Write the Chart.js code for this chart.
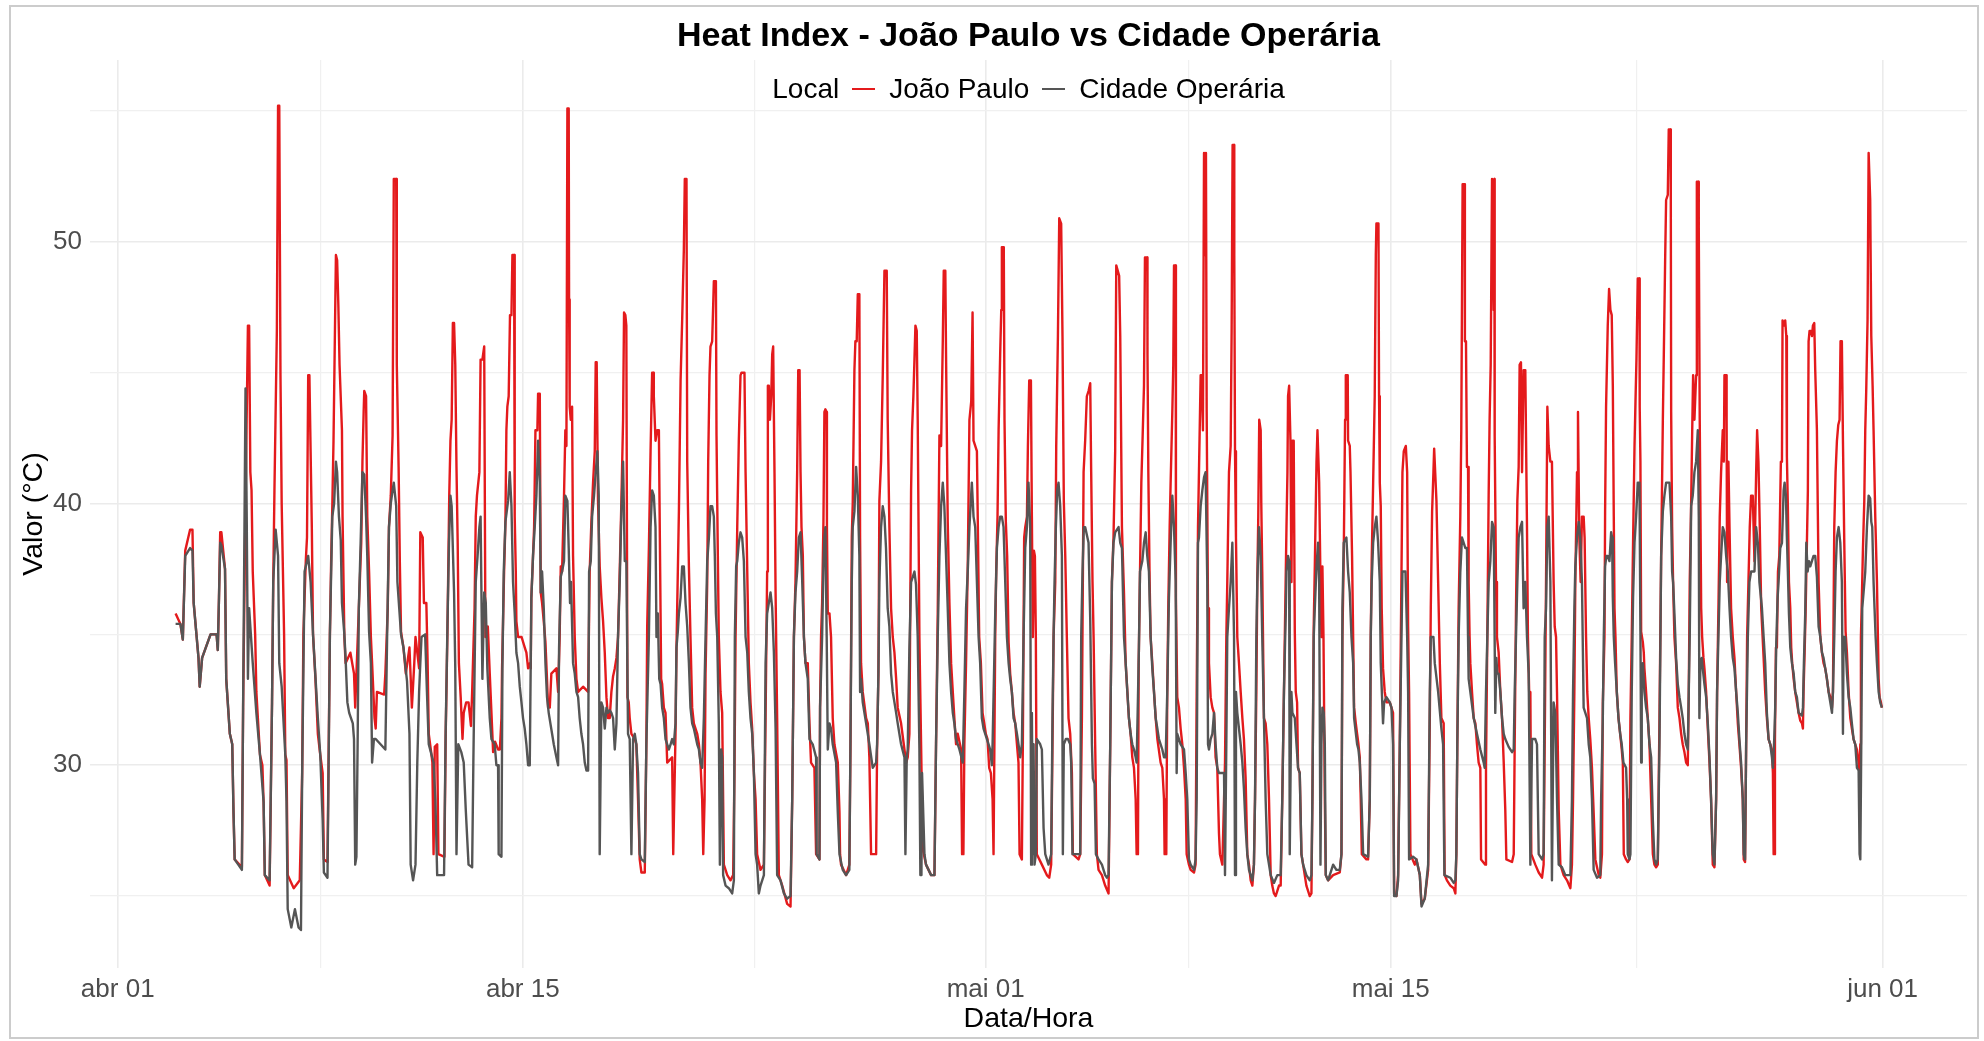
<!DOCTYPE html>
<html>
<head>
<meta charset="utf-8">
<title>Heat Index - João Paulo vs Cidade Operária</title>
<script src="https://cdn.jsdelivr.net/npm/chart.js@4.4.0/dist/chart.umd.min.js"></script>
<style>
  html, body { margin: 0; padding: 0; background: #fff; }
  #wrap { position: relative; width: 1984px; height: 1041px; overflow: hidden; }
  #chart { position: absolute; left: 0; top: 0; }
  #frame { position: absolute; left: 9px; top: 5px; width: 1966px; height: 1030px; border: 2px solid #cccccc; pointer-events: none; }
  #legend { position: absolute; left: 90px; width: 1877px; top: 73px; display: flex; justify-content: center; align-items: center;
            font: 28px "Liberation Sans", Arial, sans-serif; color: #000; white-space: nowrap; }
  .key { display: inline-block; width: 23px; height: 2px; margin: 0 14px 0 13px; }
</style>
</head>
<body>
<div id="wrap">
  <canvas id="chart" width="1984" height="1041"></canvas>
  <div id="legend">
    <span>Local</span><span class="key" style="background:#e41a1c"></span><span>João Paulo</span><span class="key" style="background:#555555"></span><span>Cidade Operária</span>
  </div>
  <div id="frame"></div>
</div>
<script>
// heat index, [hours since abr 01 00:00, °C]
const joaoPaulo = [
  [48,35.8],[52,35.4],[54,34.8],[56,38.2],[60,39.0],[62,39.0],[63,36.2],[67,34.1],[68,33.0],[70,34.1],[77,35.0],[82,35.0],[83,34.4],[84,36.4],[85,38.9],[86,38.9],[89,37.5],[90,33.3],[93,31.2],[95,30.8],[96,28.3],[97,26.4],[103,26.1],[104,32.2],[106,40.0],[108,46.8],[109,46.8],[110,41.2],[111,40.5],[112,37.4],[114,35.0],[115,32.8],[117,31.2],[118,30.4],[120,30.0],[121,28.6],[122,25.8],[126,25.4],[128,32.4],[129,37.0],[130,40.5],[132,46.6],[133,55.2],[134,55.2],[135,44.9],[136,40.0],[138,35.0],[139,30.4],[140,30.2],[141,25.8],[146,25.3],[151,25.6],[153,29.7],[154,35.0],[156,37.8],[157,38.7],[158,44.9],[159,44.9],[161,39.1],[162,35.0],[164,33.3],[166,31.2],[168,30.4],[170,29.7],[171,26.4],[174,26.3],[176,35.0],[177,37.7],
  [178,39.9],[179,42.4],[181,49.5],[182,49.3],[183,47.6],[184,45.3],[186,42.8],[186.5,39.5],[188,34.9],[189,33.9],[193,34.3],[196,33.5],[197,32.2],[200,36.0],[202,38.5],[203,41.6],[204,43.5],[204.5,44.3],[206,44.1],[207,39.5],[208.5,37.4],[210,34.9],[211,33.9],[213,31.8],[214,31.4],[215,32.8],[221,32.7],[222,33.5],[224,36.0],[225,39.1],[226.5,40.3],[228,42.6],[229,52.4],[231,52.4],[231.5,45.3],[233,41.4],[234,37.8],[235,35.1],[237,34.5],[239,33.5],[242,34.5],[244,32.2],[246,33.9],[247,34.9],[250,33.7],[251,38.9],[253,38.7],[254,36.2],[256,36.2],[257,34.1],[258,31.2],[260,30.5],[261,30.1],[262,26.6],[263,30.7],[265,30.8],[266,26.6],[271,26.5],[272,31.0],[273.5,35.1],[275,40.3],[276,42.4],[277,43.2],[278,46.9],[279,46.9],[280,45.3],[281,41.4],[282,38.5],[283,33.9],[284.5,32.6],[286,31.0],[287,32.0],[289,32.4],[291,32.4],[293,31.5],[294,32.8],[296,36.0],[297,39.5],[298,40.3],[300,41.2],[301,45.5],[302.5,45.5],[304,46.0],[305,34.9],
  [307,35.3],[308.6,33.5],[310,32.0],[311.4,30.5],[313,30.9],[315.5,30.6],[317,30.6],[318.3,31.8],[318.8,33.7],[320.5,37.4],[321.6,39.3],[322.4,42.8],[323.2,43.7],[324.3,44.1],[325.4,47.2],[326.6,47.2],[327.4,49.5],[328.8,49.5],[329.3,39.5],[330.2,37.4],[330.7,35.5],[332.1,34.9],[335,34.9],[337.6,34.5],[339,34.3],[340.4,33.7],[341.8,33.9],[342.6,33.7],[343.1,36.4],[344,37.4],[345.4,39.1],[346.5,42.8],[348.1,42.8],[348.7,44.2],[350.1,44.2],[350.9,36.6],[352,36.2],[353.4,35.5],[354.8,34.7],[355.9,33.5],[357,32.2],[358.4,32.2],[359.7,33.5],[363.9,33.7],[365.3,32.8],[366.6,34.9],[367.5,37.6],[368.6,37.4],[370.2,40.3],[371.3,42.8],[372.2,42.2],[373,55.1],[374.1,55.1],[374.4,47.8],[374.9,43.7],[375.8,43.2],[376.9,43.7],[377.7,38.0],[379.1,34.9],[380.5,33.3],[381.9,32.8],[386,33.0],[390.2,32.8],[391.5,37.4],[392.9,39.3],[394.3,40.8],[395.7,42.0],[396.5,45.4],[397.3,45.4],[398.4,40.1],[399.8,37.6],[401.2,36.4],[402.6,35.5],[404,34.3],[405.4,32.6],[406.7,31.8],[408.1,31.8],[409.5,32.8],[410.9,33.4],[412.3,33.7],[413.7,34.1],[415,34.9],[416.4,37.4],[417.8,40.1],[419.2,43.2],[420,47.3],[421.1,47.2],[421.9,46.8],[422.8,32.6],[423.9,32.4],[424.7,31.8],[426.1,31.2],[428.9,31.0],[430.2,30.8],[431.6,28.7],[433,26.4],[434.4,25.9],[437.2,25.9],[438.5,30.8],
  [439.2,35.3],[440.6,38.3],[442,42.0],[443.3,45.0],[444.2,45.0],[444.7,44.1],[446.1,42.4],[447.5,42.8],[448.9,42.8],[449.7,38.7],[450.8,33.3],[451.6,33.1],[453,32.2],[454.4,32.0],[455.8,30.1],[459.9,30.3],[460.8,26.6],[461.3,26.6],[462.7,31.2],[463.5,34.5],[465.5,39.7],[466.9,44.7],[468.2,47.0],[469.6,49.7],[470.4,52.4],[471.8,52.4],[472.4,41.6],[473.8,37.6],[475.1,34.9],[476.5,32.2],[477.9,31.6],[480.7,31.2],[482.1,30.8],[483.4,30.1],[484.8,28.7],[485.7,26.6],[486.8,28.7],[487.6,33.5],[489,37.0],[489.8,41.6],[490.9,44.9],[491.7,46.0],[493.1,46.2],[494.5,48.5],[496.2,48.5],[496.7,42.6],[497.8,38.0],[498.6,34.9],[500,32.8],[501.4,32.0],[502.8,26.2],[505.6,25.8],[508.3,25.6],[510.5,25.8],[511.6,29.7],[512.5,34.9],[513.9,39.1],[515.2,42.4],[516.6,44.9],[517.4,45.0],[519.9,45.0],[520.8,41.2],[522.2,37.4],[523.5,33.9],[524.9,32.4],[526.3,31.4],[527.7,29.7],[529.1,28.7],[530.4,26.6],[533.2,26.0],[536,26.2],[537.4,31.8],[538.7,37.4],[539.3,44.5],[540.1,44.5],[541,43.2],[542.1,44.1],[542.9,45.7],[543.7,46.0],[544.8,41.2],[545.7,36.6],[547,31.8],[548.4,25.8],[551.2,25.4],[555.3,24.7],[558.1,24.6],[559.5,28.7],[560.9,34.9],[562.2,37.0],[563.6,41.2],[564.5,45.1],[565.6,45.1],[566.4,41.2],[567.2,39.1],[568.3,38.0],[569.2,34.9],[570.5,33.9],
  [572.4,33.9],[573.8,31.6],[575.1,30.1],[577.9,29.9],[579.3,26.6],[582.1,26.4],[582.6,32.2],[583.4,34.9],[584.3,36.2],[585.4,39.3],[586.2,43.5],[587,43.6],[588.1,43.5],[588.3,39.1],[589,35.8],[590.4,35.8],[591.7,34.9],[593.1,31.8],[594.5,30.8],[597.3,30.1],[598.7,28.2],[599.2,26.6],[600,26.2],[604.2,25.8],[606.9,26.2],[607.8,30.6],[608.9,38.7],[609.7,40.0],[611.1,45.1],[611.9,46.2],[613,46.2],[613.9,48.0],[615.2,48.0],[615.8,38.7],[616.6,33.9],[618,32.8],[620.8,31.8],[622.2,31.6],[623.5,30.3],[624.9,26.6],[629.1,26.6],[629.9,30.6],[631,33.5],[631.8,40.1],[633.2,41.6],[634.6,44.9],[636,48.9],[637.9,48.9],[638.7,43.2],[640.1,39.1],[641.5,36.0],[642.9,34.9],[644.3,34.3],[645.7,33.3],[647,32.2],[649.8,31.6],[652.6,30.6],[654,30.1],[655.3,30.3],[656.7,31.2],[658.1,40.5],[658.9,42.8],[660,44.1],[660.9,45.5],[661.7,46.8],[662.8,46.6],[663.6,43.2],[665,34.9],[666.4,30.8],[667.8,26.8],[670.5,26.2],[674.7,25.8],[677.5,25.8],[678.8,30.8],[680.2,35.8],[681.6,42.6],[683,42.2],[684.4,46.2],[685.2,48.9],[686.5,48.9],[687.1,45.7],[688.5,39.3],[689.9,36.2],[691.3,33.9],[692.7,32.8],[694,31.8],[695.4,30.8],[696.8,31.2],[699.6,30.6],[700.4,26.6],[701.5,26.6],[702.3,30.8],[703.7,33.9],[705.1,37.6],[706.5,43.2],
  [708,43.9],[709.1,47.3],[709.9,42.4],[711.3,42.2],[712.7,42.0],[713.5,39.1],[714.6,34.9],[716,33.9],[717.4,32.0],[718.8,31.6],[720.1,31.2],[721.5,31.0],[722.9,29.9],[724.3,29.7],[725.7,28.7],[726.5,26.6],[727.9,34.9],[728.7,37.4],[729.8,39.5],[730.7,42.8],[732,45.7],[732.9,47.4],[733.4,49.8],[735,49.8],[735.6,43.2],[736.7,39.3],[737.8,38.0],[739,34.7],[740.3,33.5],[741.7,32.8],[743.1,32.0],[744.5,31.6],[745.9,30.8],[747.2,30.1],[748.1,26.6],[750,26.4],[750.8,30.8],[751.9,38.7],[752.8,39.1],[754.2,39.5],[755,42.2],[756.1,44.7],[757.5,44.7],[758.3,39.5],[759.1,34.9],[760,38.2],[760.8,38.0],[761.6,34.9],[762.4,26.6],[766.6,26.2],[770.7,25.8],[772.7,25.7],[774.3,26.2],[775.4,30.8],[776.3,34.9],[777.7,37.0],[778.5,42.2],[779.9,46.4],[781,50.9],[782.6,50.7],[783.7,46.4],[784.8,40.1],[786,38.0],[787.3,34.9],[788.7,31.8],[790.1,31.2],[791.5,29.7],[792.3,26.6],[797,26.4],[798.4,26.6],[799.8,31.8],[801.2,41.2],[802.5,42.4],[803.9,44.1],[805.3,44.3],[806.7,44.6],[807.5,41.2],[808.6,37.0],[809.5,34.9],[810.8,30.8],[812.2,26.6],[813.6,26.0],[816.4,25.8],[819.1,25.4],[821.9,25.1],[823.3,30.8],[824.7,37.0],[826,38.7],[827.4,42.0],[828.3,49.1],[830.7,48.7],[831.6,46.4],[833,39.1],
  [834.7,36.6],[836.1,33.9],[837.5,32.8],[838.8,31.8],[840.2,31.2],[841.6,30.3],[843,29.9],[844.4,28.7],[845.2,26.6],[846.3,26.6],[846.9,33.9],[848,37.4],[849.1,40.8],[850.2,42.6],[851.3,44.5],[852.1,49.4],[854,49.4],[854.2,45.7],[854.9,41.2],[856,37.0],[856.8,34.9],[858.2,33.9],[859.6,32.8],[861,31.8],[862.4,31.0],[865.1,30.1],[866.5,29.9],[867.9,28.7],[868.4,26.6],[869.8,26.6],[870.6,32.8],[871.5,36.2],[872.6,39.1],[873.4,40.8],[874.8,43.5],[875.6,45.3],[876.2,49.1],[877.6,49.1],[877.8,36.4],[878.9,32.6],[880.3,32.2],[881.7,31.4],[883.1,30.8],[884.5,29.9],[885.9,28.7],[886.7,26.6],[888.6,26.2],[890,26.0],[892.8,25.9],[894.1,26.2],[895,32.8],[896.1,39.1],[896.9,41.2],[898.3,44.9],[899.1,44.9],[900.2,42.8],[901.1,53.4],[902.4,49.5],[902.7,53.4],[903.3,43.5],[904.4,36.0],[905.2,33.9],[906.6,32.6],[908,32.2],[909.4,32.0],[910.7,30.3],[912.1,29.9],[913.5,27.4],[914.3,26.6],[916.3,26.2],[917.7,28.7],[918.5,30.1],[919.6,34.9],[920.4,37.0],[921.8,41.2],[923.2,42.2],[924,46.6],[924.8,53.7],[926,53.7],[926.2,49.5],[926.8,42.0],[927.6,38.7],[928.7,34.9],[930.1,33.9],[931.5,32.8],[932.9,31.8],[934.2,31.0],[935.6,29.5],[937,26.6],[938.4,26.2],[939.8,25.6],[941.2,25.4],[942.5,26.2],[943.4,28.7],[944.5,32.8],[945.3,37.0],[946.1,39.5],[946.9,43.2],[948.1,42.8],[948.6,40.0],[949.4,37.4],[950.8,31.8],[952.2,31.6],[953.6,30.8],[955,28.7],[956.4,25.8],[957.7,25.4],[959.1,25.1],[960.5,25.0],[963.3,25.4],[964.7,25.4],[966,28.7],[967.4,32.8],
  [969.5,39.1],[970.3,41.2],[970.8,44.1],[971.7,44.5],[972.8,42.4],[973.6,37.0],[974.4,42.4],[975.5,42.4],[976.4,35.1],[977.2,32.8],[978.3,32.4],[979.1,29.9],[980.5,29.7],[981.9,26.6],[983.3,26.2],[986,25.4],[988.8,25.0],[990.2,25.1],[991,28.7],[992.1,35.3],[993,37.6],[994.4,41.6],[995.2,42.8],[996.6,40.8],[997.7,37.0],[998.5,34.9],[999.3,37.6],[1000.2,34.9],[1001.3,28.7],[1002.1,25.8],[1004,25.6],[1008.2,25.8],[1013.7,25.9],[1015.1,26.6],[1015.9,34.9],[1017,38.0],[1018.1,43.2],[1018.7,44.9],[1020.3,44.9],[1020.6,42.4],[1022,42.2],[1022.6,41.2],[1023.9,38.0],[1024.8,34.9],[1025.6,32.2],[1027,31.6],[1028.1,31.2],[1029.2,30.8],[1030.3,30.3],[1031.1,28.7],[1032,26.6],[1035.8,26.4],[1037.2,26.4],[1038.6,28.7],[1039.4,34.9],[1040.2,37.8],[1041.4,40.8],[1042.7,44.1],[1043.6,49.5],[1044.1,50.7],[1045.8,50.7],[1046.3,44.1],[1046.9,40.8],[1047.7,39.9],[1048.5,36.0],[1049.6,33.7],[1051,32.8],[1052.4,32.4],[1055.2,32.4],[1057.9,32.0],[1058.8,25.1],[1060.7,25.0],[1062.1,25.8],[1063.5,30.8],[1064.9,37.4],[1065.7,41.2],[1066.8,42.0],[1068.5,42.2],[1069.6,41.2],[1070.4,35.3],[1071.2,32.8],[1072.3,26.6],[1075.9,26.2],[1077.3,26.4],[1080.1,25.8],[1081.5,24.7],[1084.2,24.9],[1087,26.0],[1088.4,31.8],[1089.2,36.0],[1090.3,39.7],[1091.4,41.2],[1092,42.1],[1093.9,40.1],[1095.3,37.0],[1096.7,33.9],[1098,31.8],
  [1099.9,31.6],[1100.7,25.8],[1102.6,25.6],[1105.4,25.4],[1108.2,25.3],[1109.6,25.1],[1110.4,26.6],[1111.2,30.8],[1112.3,36.0],[1113.7,39.5],[1114.5,42.8],[1115.6,52.2],[1117.3,52.2],[1117.5,46.2],[1118.4,46.2],[1119.2,41.4],[1120.1,41.4],[1120.6,37.0],[1121.4,34.9],[1122,33.9],[1123.4,32.8],[1124.8,31.8],[1126.2,31.6],[1127.5,30.8],[1128.9,30.1],[1130.3,29.9],[1130.9,26.4],[1134.4,26.2],[1135,29.9],[1136.1,34.9],[1137.2,40.3],[1138,43.2],[1138.9,45.3],[1140,52.4],[1141.4,47.4],[1141.9,52.4],[1142.2,42.6],[1143.3,37.0],[1144.1,34.9],[1145.5,34.3],[1146.9,32.8],[1148.3,31.8],[1149.7,30.1],[1151,28.3],[1151.9,26.4],[1156.6,26.3],[1158,26.6],[1158.8,30.8],[1159.9,36.0],[1161,40.1],[1162.1,41.4],[1162.9,45.3],[1164,45.4],[1164.9,41.2],[1166.2,45.1],[1167.6,45.1],[1169,39.1],[1169.8,34.9],[1170.9,32.6],[1171.8,32.8],[1172.6,26.6],[1175.9,26.2],[1178.7,25.9],[1181.5,25.7],[1182.8,26.2],[1183.7,30.8],[1184.8,37.0],[1185.9,43.7],[1187,42.2],[1188.4,41.6],[1189.7,41.6],[1191.1,37.0],[1192,35.3],[1193.1,34.9],[1193.9,32.8],[1195.3,28.3],[1196.7,26.2],[1199.4,25.8],[1202.2,25.6],[1205,25.3],[1206.3,26.2],[1207.2,28.7],[1208.3,32.8],[1209.1,37.0],[1210.5,41.2],[1211.3,43.5],[1212.4,38.7],[1213.5,37.0],[1214.6,39.5],[1216,39.5],[1216.8,38.7],[1218,34.9],[1219,32.8],[1220.2,31.8],[1221.5,31.0],[1222.9,29.9],[1224.3,28.2],[1225.7,26.4],[1228.5,25.8],[1229.8,25.7],[1231.2,26.6],
  [1231.9,32.4],[1233.3,34.9],[1233.8,39.7],[1234.6,43.7],[1236,46.8],[1237.1,48.2],[1238.2,47.4],[1239.3,47.2],[1240.2,44.5],[1241,39.5],[1241.6,36.0],[1242.4,34.9],[1243.5,32.8],[1244.9,31.8],[1246.3,31.2],[1247.6,30.6],[1248.5,30.1],[1249.3,26.6],[1251.2,26.4],[1252.6,26.3],[1254,26.4],[1254.8,31.8],[1255.9,34.9],[1257,38.5],[1258.2,42.2],[1259,43.9],[1259.8,45.5],[1260.9,48.6],[1262.3,48.6],[1262.5,43.7],[1263.1,41.6],[1263.7,35.1],[1265.1,34.7],[1265.9,34.3],[1266.4,33.7],[1267.8,32.8],[1269.2,31.8],[1270.6,30.8],[1272,28.7],[1273.4,26.6],[1274.7,26.2],[1276.1,26.1],[1277.5,26.2],[1278.9,31.8],[1280.3,38.0],[1281.7,43.2],[1282.5,45.7],[1283.6,49.3],[1284.4,51.6],[1285.8,51.8],[1286.6,54.3],[1288,54.3],[1288.3,51.6],[1288.6,43.5],[1289.4,39.1],[1290.2,37.0],[1291.3,34.9],[1292.7,33.9],[1294.1,32.2],[1295.5,31.8],[1296.9,31.2],[1298.2,30.8],[1299.6,30.5],[1301,30.1],[1302.4,30.0],[1303.2,32.8],[1304,37.0],[1305.2,40.1],[1306,42.6],[1306.8,44.9],[1307.9,43.2],[1309.3,44.9],[1309.9,52.3],[1311.2,52.3],[1311.5,50.5],[1312.3,43.2],[1313.5,36.0],[1314.3,34.9],[1315.4,34.1],[1316.2,33.7],[1317.6,32.8],[1319,31.4],[1320.4,30.1],[1321.7,28.7],[1323.1,26.2],[1324.5,26.1],[1325.9,28.7],[1326.7,32.8],[1327.8,36.0],[1328.9,39.5],[1330,41.2],[1331.4,42.8],[1332.3,41.6],[1332.8,44.9],[1334.2,44.9],[1334.6,43.2],[1335,37.0],[1336.1,41.6],[1337,39.1],[1338.3,36.0],[1339.7,34.9],[1341.1,34.1],[1342.5,32.8],[1343.9,31.6],[1345.2,30.8],[1346.6,29.9],[1348,28.7],[1348.8,26.4],[1349.9,26.3],[1350.8,30.8],[1351.6,34.9],[1352.7,37.0],[1353.8,39.1],[1354.9,40.3],[1356.3,40.3],[1357.7,37.8],[1359.1,41.2],[1359.9,42.8],[1361,41.6],[1362.1,39.1],
  [1363.3,36.0],[1365.3,34.1],[1366.6,32.8],[1368,31.8],[1369.4,31.0],[1370.8,30.8],[1372.2,30.6],[1373,29.7],[1373.6,26.6],[1374.4,26.6],[1374.7,31.0],[1375.5,34.5],[1376.3,34.5],[1377.2,37.4],[1378.3,38.0],[1379.6,41.6],[1380.5,41.6],[1381,47.0],[1381.9,46.8],[1383.2,47.0],[1384.1,46.4],[1384.6,41.8],[1385.4,39.9],[1386.3,37.0],[1387.4,36.0],[1388.2,34.5],[1389,33.9],[1390.2,33.3],[1391.5,32.8],[1392.9,32.4],[1394.3,32.0],[1395.7,31.7],[1397.1,31.6],[1397.9,31.4],[1398.4,32.8],[1399.3,34.3],[1400.1,35.8],[1401.2,38.5],[1402,40.5],[1402.6,46.2],[1403.4,46.6],[1404.5,46.6],[1405.4,46.4],[1406.2,46.8],[1407.3,46.9],[1408.1,45.1],[1409.5,42.8],[1410.9,37.0],[1412.3,34.9],[1413.7,34.3],[1415,33.9],[1416.4,33.7],[1417.8,33.3],[1419.2,32.8],[1420.6,32.6],[1422,32.2],[1422.8,32.8],[1423.9,39.1],[1425,41.2],[1426.1,42.4],[1427.2,43.0],[1428.3,43.2],[1429.1,46.2],[1430.2,46.2],[1431.1,42.4],[1432.2,38.5],[1433.3,35.1],[1434.4,34.3],[1435.8,32.8],[1437.2,31.8],[1438.5,31.4],[1439.9,31.0],[1441.3,30.8],[1442.7,30.6],[1444.1,30.1],[1444.9,29.7],[1445.5,30.8],[1446,34.9],[1446.8,36.4],[1447.7,38.3],[1448.8,40.1],[1449.6,42.8],[1450.4,44.3],[1451.5,47.0],[1452.4,53.4],[1453.7,51.6],[1454.6,46.4],[1455.7,44.5],[1456.5,42.8],[1457.9,39.5],[1459.3,37.0],[1460.1,34.9],[1460.7,33.3],[1461.5,32.6],[1462.6,32.4],[1463.4,32.2]
];

const cidadeOperaria = [
  [48,35.4],[52,35.4],[54,34.8],[55,36.4],[56,38.0],[60,38.3],[62,38.2],[63,36.2],[67,34.1],[68,33.0],[70,34.1],[77,35.0],[82,35.0],[83,34.4],[84,36.4],[85,38.5],[86,38.4],[89,37.5],[90,33.3],[93,31.2],[95,30.8],[96,28.3],[97,26.4],[103,26.0],[104,32.2],[106,44.4],[107,39.5],[108,33.3],[109,36.0],[112,33.9],[115,32.0],[118,30.4],[121,28.6],[122,25.8],[126,25.6],[128,32.4],[129,37.0],[131,39.0],[133,38.0],[134,33.9],[136,33.0],[139,30.4],[140,28.6],[141,24.5],[144,23.8],[147,24.5],[150,23.8],[152,23.7],[153,29.7],[155,37.4],[158,38.0],[160,37.0],[162,35.0],[166,31.8],[168,30.4],[170,27.9],[171,25.9],[174,25.7],[176,35.0],
  [178,39.5],[179.5,40.0],[181,41.6],[182,41.2],[183.5,39.5],[185,38.6],[186,36.2],[188,35.0],[189,34.1],[190.5,32.4],[192,32.0],[195,31.6],[196,31.0],[197,26.2],[198,26.5],[199,30.8],[200,36.0],[201.5,38.5],[203,41.2],[204.5,41.1],[206,39.5],[207,38.0],[208.5,35.1],[210,33.9],[211,30.1],[212.5,31.0],[214,31.0],[218,30.8],[222,30.6],[223.5,35.0],[225,39.1],[226.5,40.0],[228,40.5],[229,40.8],[231,39.9],[232,37.0],[233.5,36.0],[235,35.0],[237,34.5],[240,33.2],[242,31.2],[243,26.2],[245,25.6],[247,26.2],[248.5,30.1],[250,32.8],[251,33.9],[252,34.9],[255,35.0],[256.5,32.8],[258,30.8],[262,30.1],[263.5,28.7],[265,25.8],[270.7,25.8],[272,31.2],[273.5,35.3],[274.8,38.5],[276,40.3],[277,39.9],[279,36.6],[280,33.7],[281,26.6],[282.5,30.8],[285,30.5],[287,30.1],[288.7,28.3],[291,26.2],[294,26.1],[295,30.1],[297,37.0],[298.5,38.0],[300,39.1],[301,39.5],[302.5,33.3],[304,36.6],[305.3,36.2],[306.6,33.7],
  [308.6,31.8],[310,31.0],[312.7,30.8],[314.1,30.0],[315.5,30.0],[316,26.6],[318.3,26.5],[319.1,33.7],[320.2,37.4],[321.6,39.3],[323.8,40.1],[325.2,41.2],[326.6,39.9],[327.9,37.0],[329.3,35.8],[330.7,34.3],[332.1,33.9],[333.5,33.0],[334.9,32.4],[336.2,31.8],[337.6,31.4],[339,30.8],[340.4,30.0],[341.8,30.0],[343.1,36.4],[344.5,38.0],[345.9,39.1],[347.3,40.3],[348.7,42.4],[350.1,40.8],[350.9,36.6],[352,37.4],[353.4,36.0],[354.8,33.9],[356.1,32.6],[357.5,32.0],[358.9,31.6],[360.3,31.2],[361.7,30.8],[363.9,30.3],[365.3,30.0],[366.1,34.5],[367.5,37.2],[368.6,37.4],[370.2,37.8],[371.3,40.3],[373,40.1],[374.1,38.3],[375.2,36.2],[376,37.0],[377.7,33.9],[379.1,33.5],[380.5,32.8],[381.9,32.6],[383.2,31.8],[384.6,31.2],[386,30.8],[387.4,30.1],[388.8,29.8],[390.2,29.8],[391,37.4],[392.4,37.8],[393.5,39.5],[395.1,40.3],[396.5,41.2],[397.9,42.0],[399,40.3],[399.8,26.6],[401.2,32.4],[402.6,32.2],[404,31.4],[405.4,32.2],[406.7,32.0],[408.1,32.1],[409.5,32.0],[410.9,31.8],[412.3,30.6],[413.7,31.6],[415,34.9],[416.4,37.0],[417.8,39.7],[419.2,41.6],[420.6,37.8],[421.9,37.8],[423.3,31.2],[424.7,31.0],[426.1,26.6],[427.5,31.0],[428.9,31.2],[430.2,30.8],[431.6,29.7],[433,26.6],[434.4,26.4],[437.2,26.3],[438.5,30.8],
  [440.6,34.9],[442,39.1],[443.3,40.5],[444.7,40.3],[446.1,39.1],[446.9,34.9],[448,35.8],[449.2,33.3],[450.3,33.1],[451.6,32.2],[453,31.8],[454.4,31.0],[455.8,30.8],[457.2,30.6],[458.6,30.8],[459.9,31.0],[461.3,30.8],[462.7,31.6],[463.5,34.5],[464.6,35.1],[465.5,35.8],[466.9,36.4],[468.2,37.6],[469.6,37.6],[471,36.2],[472.4,35.3],[473.8,33.9],[475.1,32.2],[476.5,31.6],[477.9,31.4],[480.7,30.8],[482.1,30.6],[483.4,30.1],[484.8,29.9],[486.2,31.8],[487.6,34.9],[489,37.8],[490.4,38.7],[491.7,39.9],[493.1,39.9],[494.5,39.5],[495.3,38.0],[496.2,35.8],[497.3,34.9],[498.6,31.6],[499.5,26.2],[500.6,30.6],[501.4,30.3],[502.2,25.8],[504.2,25.4],[506.9,25.3],[509.7,25.1],[511.1,25.6],[511.9,34.9],[513,37.6],[513.9,37.8],[515.2,38.5],[516.6,38.9],[518,38.7],[519.4,37.8],[520.8,34.9],[522.2,34.3],[523.5,32.8],[524.9,31.8],[526.3,31.2],[527.7,29.7],[529.1,26.6],[530.4,26.2],[531.8,25.1],[533.2,25.4],[536,25.8],[537.4,33.9],[538.7,35.8],[540.1,36.2],[541.5,36.6],[542.9,36.0],[544.3,34.3],[545.7,31.4],[547,25.8],[549.8,25.6],[552.6,25.1],[555.3,24.9],[558.1,25.0],[559.5,28.7],[560.9,34.9],[562.2,36.6],[563.6,37.4],[565,38.7],[566.4,38.9],[567.8,37.0],[569.2,34.9],[570.5,33.9],
  [572.4,33.3],[573.8,31.0],[576.5,30.8],[579.3,30.3],[579.8,26.6],[582.1,26.4],[582.6,32.2],[584.3,34.9],[585.4,37.6],[586.2,38.7],[587,39.1],[588.1,34.9],[589,30.6],[590.4,31.6],[591.7,31.4],[593.1,30.8],[595.9,30.1],[597.3,28.2],[598.7,26.6],[601.4,26.0],[604.2,25.8],[606.9,26.0],[607.8,30.8],[608.9,37.0],[609.7,39.1],[611.1,39.7],[612.5,41.4],[613.9,40.3],[615.2,38.0],[615.8,32.8],[616.6,33.3],[618,32.4],[620.8,31.6],[623.5,30.8],[626.3,29.9],[629.1,30.1],[629.9,30.8],[631,33.5],[631.8,37.0],[633.2,39.1],[634.6,39.9],[636,39.5],[637.3,38.3],[638.7,36.0],[640.1,35.3],[641.5,33.5],[642.9,32.8],[644.3,32.4],[645.7,32.0],[647,31.6],[649.8,30.8],[652.6,30.3],[653.4,26.6],[654.5,30.3],[655.3,30.6],[656.7,34.5],[658.1,37.0],[660.9,37.4],[662.2,36.9],[663.6,34.9],[665,30.6],[665.8,25.8],[666.7,25.8],[667.2,29.7],[669.2,26.6],[670.5,26.2],[674.7,25.8],[677.5,25.8],[678.8,30.8],[680.2,34.9],[681.6,38.0],[683,39.9],[684.4,40.8],[685.7,39.9],[687.1,38.0],[688.5,36.0],[689.9,33.9],[691.3,32.8],[692.7,32.0],[694,31.6],[695.4,31.0],[698.2,30.6],[701,30.1],[702.3,32.8],[703.7,36.0],[705.1,37.4],[706.5,39.1],
  [708.5,40.8],[709.9,39.5],[711.3,39.1],[712.7,37.0],[714.1,34.9],[715.4,33.9],[716.8,31.8],[718.2,31.4],[719.6,31.2],[721,31.0],[722.4,30.8],[723.7,30.6],[725.1,30.0],[725.7,30.8],[727.9,35.8],[729.3,38.3],[730.7,39.1],[732,39.5],[733.4,39.5],[734.8,39.1],[736.2,37.0],[737.6,34.9],[739,33.9],[740.3,33.3],[741.7,32.8],[743.1,31.8],[744.5,31.6],[745.9,31.2],[747.2,30.8],[748.6,30.3],[750,30.8],[751.4,34.9],[752.8,38.3],[754.2,39.1],[755.5,40.8],[756.9,39.1],[757.7,26.2],[758.3,32.0],[759.1,26.6],[759.7,30.8],[760.5,26.2],[761.6,26.6],[762.4,31.0],[765.2,30.8],[766.6,30.6],[768,27.6],[769.4,26.6],[772.1,26.2],[774.3,26.6],[775.4,31.8],[776.3,34.9],[777.1,37.0],[778.2,39.1],[779.3,40.5],[780.4,40.8],[781.8,39.9],[783.2,38.0],[784,26.6],[784.8,30.8],[786.5,31.0],[788.2,31.0],[790.1,30.8],[790.9,30.1],[792,26.6],[798.4,26.6],[799.2,34.9],[800.3,37.4],[801.4,39.1],[802.5,39.1],[805.3,38.5],[806.7,35.6],[808.1,30.8],[808.9,29.5],[810.3,29.3],[811.4,26.6],[813.6,26.4],[816.4,26.2],[819.1,25.8],[820.5,25.7],[821.9,25.8],[823.3,30.8],[824.7,37.0],[826,38.5],[827.4,38.9],[830.2,39.1],[831.6,38.5],[833,38.3],
  [834.7,34.9],[836.1,33.9],[837.5,32.8],[838.8,31.8],[840.2,31.2],[841.6,30.8],[843,30.6],[844.4,30.3],[845.2,30.1],[846.3,32.6],[847.1,34.5],[848,37.4],[849.9,37.8],[851.3,38.5],[852.7,38.9],[854,38.0],[855.4,37.4],[856.8,34.9],[858.2,33.7],[859.6,32.8],[861,31.8],[862.4,31.4],[863.7,31.0],[865.1,30.8],[866.5,30.6],[867.9,30.3],[869.3,30.3],[870.6,32.8],[872,36.4],[873.4,38.5],[874.8,40.3],[876.2,39.1],[877.6,37.0],[878.4,29.7],[878.9,31.2],[881.7,30.8],[884.5,30.6],[885.9,29.7],[887.2,28.7],[888.6,26.4],[890,26.2],[892.8,26.0],[894.1,26.4],[895,28.7],[896.1,38.5],[896.9,38.7],[898.3,39.9],[899.7,40.5],[901.1,41.0],[902.4,41.2],[903.8,37.0],[904.4,30.8],[905.2,30.6],[906.6,31.0],[908,31.2],[909.4,32.0],[910.7,30.8],[912.1,29.9],[913.5,29.7],[917.7,29.7],[918.5,25.8],[919.6,30.8],[920.4,34.9],[921.8,36.0],[923.2,37.0],[924.6,38.5],[926,34.9],[926.8,25.8],[927.6,32.8],[928.7,32.0],[930.1,31.4],[931.5,30.8],[932.9,30.1],[934.2,29.1],[935.6,27.6],[937,26.6],[938.4,26.0],[939.8,25.8],[941.2,25.6],[942.5,26.2],[943.4,28.7],[944.5,34.9],[945.3,37.0],[946.7,39.1],[948.1,38.0],[949.4,34.9],[950.8,31.8],[952.2,28.7],[953.6,26.6],[955,26.2],[956.4,25.8],[959.1,25.5],[961.9,25.8],[964.7,25.8],[966,28.7],[967.4,32.8],
  [968.9,35.8],[969.5,37.4],[970.8,38.0],[971.7,37.8],[972.2,26.6],[973.6,32.8],[974.4,32.0],[976.4,31.8],[977.8,30.8],[979.1,29.9],[980.5,29.7],[981.9,26.6],[983.3,26.2],[986,25.8],[988.8,25.6],[990.2,25.8],[991,28.7],[992.1,34.9],[993,36.0],[994.4,37.6],[995.7,38.5],[996.6,37.0],[997.7,26.2],[998.5,30.8],[999.3,32.2],[1000.4,32.0],[1001.3,30.8],[1002.1,25.8],[1004,25.6],[1005.4,25.8],[1008.2,26.2],[1010.9,26.0],[1013.7,26.0],[1015.1,26.6],[1015.9,36.0],[1017,38.5],[1019.2,38.7],[1020.6,37.4],[1022,36.6],[1023.4,34.9],[1024.8,33.9],[1025.6,31.8],[1028.1,30.8],[1029.2,30.6],[1030.3,30.1],[1031.7,28.7],[1033.1,26.6],[1037.2,26.5],[1038.6,28.7],[1039.4,34.9],[1040.2,37.0],[1041.4,38.5],[1042.7,39.1],[1044.1,39.5],[1045.5,38.5],[1046.9,37.0],[1047.7,33.9],[1049.6,31.6],[1050.5,32.4],[1052.4,32.6],[1055.2,32.4],[1056.6,32.2],[1057.9,30.8],[1058.8,25.0],[1060.7,25.0],[1062.1,25.6],[1063.5,30.8],[1064.9,34.9],[1065.7,37.4],[1068.2,37.4],[1069.6,34.9],[1070.4,32.8],[1071.2,26.4],[1074.5,26.5],[1077.3,26.4],[1080.1,25.8],[1081.5,24.6],[1084.2,24.9],[1087,26.2],[1088.4,32.8],[1089.2,34.9],[1091.4,34.9],[1092.5,33.9],[1095.3,32.8],[1098,31.4],[1099.4,30.8],
  [1100.5,25.8],[1105.4,25.7],[1108.2,25.5],[1109.6,25.6],[1110.4,26.6],[1111.2,30.8],[1112.3,34.9],[1113.7,37.4],[1115.1,38.7],[1117.9,38.3],[1119.2,38.3],[1120.1,34.9],[1120.6,33.3],[1122,32.8],[1124.8,31.8],[1127.5,31.2],[1130.3,30.6],[1133.1,30.1],[1133.9,29.9],[1135,32.8],[1136.1,34.9],[1137.2,37.0],[1138.6,37.8],[1140,39.3],[1141.4,39.1],[1142.7,32.0],[1143.6,34.1],[1144.4,33.5],[1145.5,33.5],[1146.9,32.8],[1148.3,31.8],[1149.7,31.2],[1151,31.0],[1153.8,30.7],[1156.6,30.5],[1158,30.6],[1158.8,32.8],[1159.9,34.9],[1161,37.0],[1162.1,38.7],[1163.5,39.1],[1164.9,39.3],[1166.2,36.0],[1167.6,37.0],[1169,34.9],[1170.4,33.5],[1171.8,26.2],[1173.2,31.0],[1175.9,31.0],[1177.3,30.8],[1178.7,26.6],[1181.5,26.4],[1182.8,26.6],[1183.7,34.9],[1184.8,36.0],[1185.9,39.1],[1187,39.5],[1188.4,37.0],[1189.7,25.6],[1191.1,32.4],[1192.5,32.0],[1193.9,28.7],[1195.3,26.2],[1198,26.1],[1200.8,25.8],[1205,25.8],[1206.3,28.7],[1207.2,32.8],[1208.3,36.0],[1209.1,37.6],[1210.5,38.7],[1211.9,39.3],[1213.2,38.7],[1214.6,37.0],[1216,32.2],[1218.8,31.8],[1220.2,30.8],[1221.5,30.3],[1222.9,28.7],[1224.3,26.0],[1227.1,25.7],[1229.8,25.8],
  [1230.5,28.7],[1231.9,31.8],[1232.7,34.9],[1233.8,37.6],[1234.9,38.0],[1236,38.0],[1237.4,37.8],[1238.8,38.9],[1239.6,38.7],[1240.2,36.4],[1241,34.9],[1242.1,33.9],[1243.5,32.8],[1244.9,31.8],[1246.3,31.2],[1247.6,30.8],[1249,30.1],[1251.2,29.9],[1252.1,28.7],[1252.6,26.6],[1254,26.4],[1254.8,26.6],[1255.9,32.8],[1257,36.4],[1258.2,38.5],[1259.5,39.5],[1260.9,40.8],[1262.3,40.8],[1263.1,35.1],[1263.7,30.1],[1264.2,33.0],[1265.1,33.9],[1266.4,32.8],[1267.8,32.2],[1269.2,31.8],[1270.6,30.8],[1272,30.3],[1273.4,27.9],[1274.7,26.4],[1276.1,26.2],[1277.5,26.4],[1278.9,30.8],[1280.3,38.0],[1281.7,39.7],[1283,40.3],[1284.4,40.8],[1287.2,40.8],[1288.6,39.5],[1289.4,37.4],[1290.2,37.0],[1291.3,35.8],[1292.7,34.1],[1294.1,33.1],[1295.5,32.6],[1296.9,32.2],[1298.2,31.8],[1299.6,31.2],[1301,30.8],[1302.4,30.6],[1303.2,32.8],[1304,34.9],[1305.2,39.9],[1306.5,40.3],[1307.9,41.2],[1309.3,41.6],[1310.7,42.8],[1311.5,39.5],[1312,31.8],[1312.9,33.9],[1314,34.1],[1314.8,33.7],[1316.2,33.1],[1317.6,32.6],[1319,31.6],[1320.4,30.3],[1321.7,28.7],[1323.1,26.6],[1324.5,26.2],[1325.9,28.7],[1326.7,32.8],[1327.8,34.9],[1328.9,37.0],[1330,38.0],[1331.4,39.1],[1332.8,38.9],[1334.2,38.0],[1335.6,37.4],[1337,36.0],[1338.3,34.9],[1339.7,34.1],[1341.1,33.7],[1342.5,32.8],[1343.9,32.0],[1345.2,31.0],[1346.6,30.1],[1348,28.7],[1348.8,26.6],[1349.9,26.4],[1350.8,30.8],[1352.2,34.9],[1353.5,37.0],[1354.9,37.4],[1357.7,37.4],[1359.1,39.1],[1360.5,38.5],[1361.8,37.0],
  [1363.9,36.0],[1365.3,34.9],[1366.6,33.9],[1368,32.0],[1369.4,31.0],[1370.8,30.8],[1372.2,30.3],[1373,29.9],[1374.1,31.0],[1374.9,32.2],[1375.8,34.7],[1376.9,36.4],[1377.7,37.0],[1379.1,38.3],[1380.5,38.5],[1381.9,40.5],[1382.7,40.8],[1383.8,40.3],[1384.6,38.7],[1385.4,37.4],[1386.3,35.8],[1387.4,34.5],[1388.8,33.9],[1390.2,33.5],[1391.5,32.8],[1392.9,32.6],[1394.3,32.0],[1397.1,31.9],[1397.9,32.2],[1398.7,33.9],[1399.8,35.8],[1400.7,38.5],[1401.8,37.4],[1402.9,37.8],[1404,37.6],[1406.7,38.0],[1408.1,38.0],[1409.5,37.2],[1410.9,35.3],[1412.3,34.9],[1413.7,34.3],[1415,34.1],[1416.4,33.7],[1417.8,33.3],[1419.2,32.8],[1420.6,32.4],[1422,32.0],[1422.8,32.8],[1423.9,34.9],[1425,37.4],[1426.1,38.7],[1427.5,39.1],[1428.9,38.5],[1430.2,37.0],[1431.1,31.2],[1431.6,34.9],[1433,34.9],[1434.4,33.5],[1435.8,32.6],[1437.2,32.2],[1438.5,31.6],[1439.9,31.0],[1441.3,30.8],[1442.7,29.9],[1444.1,29.8],[1444.9,26.6],[1445.5,26.4],[1446.3,30.8],[1447.1,36.0],[1448.2,36.6],[1449.6,37.4],[1451,39.1],[1452.4,40.3],[1453.7,40.2],[1454.6,39.3],[1455.4,39.1],[1456.5,37.0],[1457.3,36.0],[1458.2,34.9],[1459.3,33.9],[1460.7,32.8],[1462,32.4],[1463.4,32.2]
];

// axis ticks (hours since abr 01)
const xTickHours = [0, 336, 720, 1056, 1464];
const xTickLabels = ["abr 01", "abr 15", "mai 01", "mai 15", "jun 01"];
const xMinorHours = [168, 528, 888, 1260];
const yTickValues = [30, 40, 50];
const yMinorValues = [25, 35, 45, 55];

const FONT = '"Liberation Sans", Arial, Helvetica, sans-serif';
Chart.defaults.font.family = FONT;

function toPoints(rows) {
  return rows.map(r => ({ x: r[0], y: r[1] }));
}

function gridColor(majors) {
  return (c) => (c.tick && majors.includes(c.tick.value)) ? "#ebebeb" : "#f0f0f0";
}
function gridWidth(majors) {
  return (c) => (c.tick && majors.includes(c.tick.value)) ? 1.6 : 1.2;
}

new Chart(document.getElementById("chart"), {
  type: "line",
  data: {
    datasets: [
      { label: "João Paulo", data: toPoints(joaoPaulo), borderColor: "#e41a1c", borderWidth: 2.4, borderJoinStyle: "round", pointRadius: 0, tension: 0, order: 1 },
      { label: "Cidade Operária", data: toPoints(cidadeOperaria), borderColor: "#555555", borderWidth: 2.4, borderJoinStyle: "round", pointRadius: 0, tension: 0, order: 0 }
    ]
  },
  options: {
    responsive: false,
    animation: false,
    events: [],
    layout: { padding: { left: 10, right: 17, top: 0, bottom: 3 } },
    plugins: {
      legend: { display: false },
      tooltip: { enabled: false },
      title: {
        display: true,
        fullSize: false,
        text: "Heat Index - João Paulo vs Cidade Operária",
        color: "#000",
        font: { size: 34, weight: "bold" },
        padding: { top: 16, bottom: 3.2 }
      }
    },
    scales: {
      x: {
        type: "linear",
        min: -23,
        max: 1534,
        afterBuildTicks: (s) => { s.ticks = xTickHours.concat(xMinorHours).sort((a, b) => a - b).map(v => ({ value: v })); },
        afterFit: (s) => { s.height = 70; },
        border: { display: false },
        grid: { drawTicks: false, color: gridColor(xTickHours), lineWidth: gridWidth(xTickHours) },
        ticks: {
          autoSkip: false, maxRotation: 0, padding: 6.5, color: "#4d4d4d", font: { size: 26 },
          callback: (v) => { const i = xTickHours.indexOf(v); return i >= 0 ? xTickLabels[i] : ""; }
        },
        title: { display: true, text: "Data/Hora", color: "#000", font: { size: 28.5 }, padding: { top: 0, bottom: 2 } }
      },
      y: {
        min: 22.25,
        max: 56.95,
        afterBuildTicks: (s) => { s.ticks = yMinorValues.concat(yTickValues).sort((a, b) => a - b).map(v => ({ value: v })); },
        afterFit: (s) => { s.width = 80; },
        border: { display: false },
        grid: { drawTicks: false, color: gridColor(yTickValues), lineWidth: gridWidth(yTickValues) },
        ticks: {
          padding: 8, color: "#4d4d4d", font: { size: 26 },
          callback: (v) => yTickValues.includes(v) ? String(v) : ""
        },
        title: { display: true, text: "Valor (°C)", color: "#000", font: { size: 28.5 }, padding: { top: 7, bottom: 0 } }
      }
    }
  }
});
</script>
</body>
</html>
